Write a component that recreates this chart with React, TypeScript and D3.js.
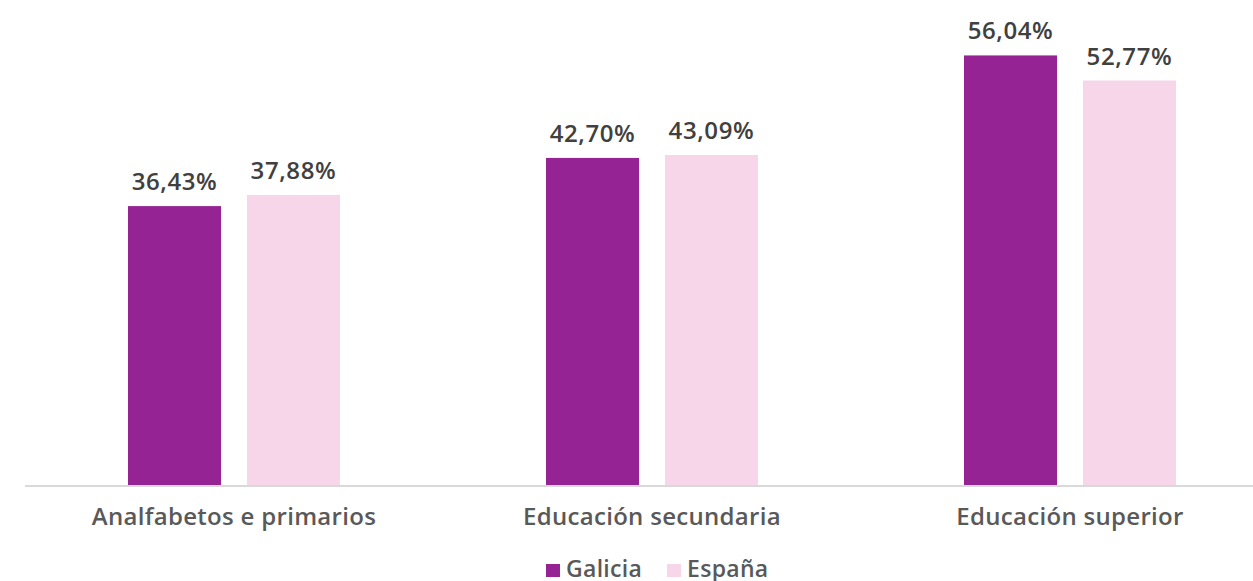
import React from "react";
import * as d3 from "d3";

const categories = ["Analfabetos e primarios", "Educación secundaria", "Educación superior"];
const series = ["Galicia", "España"];
const galicia = [36.43, 42.7, 56.04];
const espana = [37.88, 43.09, 52.77];
const colors = ["#952393", "#F8D6EA"];

const width = 1253;
const height = 581;
const font = "'Open Sans', sans-serif";

const fmt = (v: number) => v.toFixed(2).replace(".", ",") + "%";

export default function App() {
  const x = d3.scaleBand().domain(categories).range([25, 1279]);
  const inner = d3.scaleBand().domain(series).range([103, 315]).paddingInner(0.218);
  const y = d3.scaleLinear().domain([0, 60]).range([486, 25]);
  const values = [galicia, espana];

  return (
    <svg width={width} height={height} style={{ position: "absolute", left: 0, top: 0 }}>
      {series.map((s, si) =>
        categories.map((c, ci) => {
          const v = values[si][ci];
          const bx = (x(c) ?? 0) + (inner(s) ?? 0);
          return (
            <g key={s + c}>
              <rect x={bx} y={y(v)} width={inner.bandwidth()} height={y(0) - y(v)} fill={colors[si]} />
              <text
                x={bx + inner.bandwidth() / 2}
                y={y(v) - 16}
                textAnchor="middle"
                fontFamily={font}
                fontWeight={600}
                fontSize={24}
                letterSpacing={0.6}
                fill="#404040"
              >
                {fmt(v)}
              </text>
            </g>
          );
        })
      )}
      <line x1={25} x2={width} y1={y(0)} y2={y(0)} stroke="#d9d9d9" strokeWidth={2} />
      {categories.map((c) => (
        <text
          key={c}
          x={(x(c) ?? 0) + x.bandwidth() / 2}
          y={525}
          textAnchor="middle"
          fontFamily={font}
          fontWeight={600}
          fontSize={24}
          letterSpacing={0.3}
          fill="#595959"
        >
          {c}
        </text>
      ))}
      {series.map((s, si) => {
        const lx = [546, 667][si];
        return (
          <g key={s}>
            <rect x={lx} y={564} width={14} height={13} fill={colors[si]} />
            <text x={lx + 20} y={577} fontFamily={font} fontWeight={600} fontSize={23} letterSpacing={0.3} fill="#595959">
              {s}
            </text>
          </g>
        );
      })}
    </svg>
  );
}
